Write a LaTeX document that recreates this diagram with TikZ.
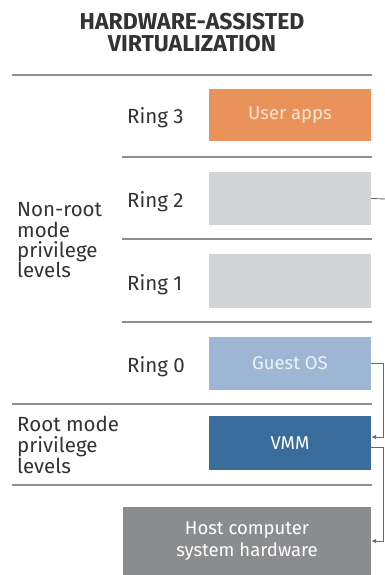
\documentclass[tikz,border=0pt]{standalone}
\usepackage{fontspec}
\setmainfont{Fira Sans}
\usetikzlibrary{arrows.meta}
\definecolor{inkdark}{HTML}{333333}
\definecolor{rulegray}{HTML}{8E8E8E}
\definecolor{wiregray}{HTML}{6A6A6A}
\definecolor{appsorange}{HTML}{E9925A}
\definecolor{appstext}{HTML}{FCE6D4}
\definecolor{emptygray}{HTML}{D1D3D4}
\definecolor{guestblue}{HTML}{9DB6D4}
\definecolor{guesttext}{HTML}{EEF3F9}
\definecolor{vmmblue}{HTML}{3B6D9C}
\definecolor{hostgray}{HTML}{8B8C8E}
\tikzset{
  ringbox/.style={minimum width=162pt, minimum height=53pt, inner sep=0pt,
    font=\fontsize{18.5}{22}\selectfont},
  ringlabel/.style={anchor=base west, inner sep=0pt, text=inkdark,
    font=\fontsize{20.5}{22}\selectfont},
  sidelabel/.style={anchor=base west, inner sep=0pt, text=inkdark,
    font=\fontsize{20.5}{22}\selectfont},
  titleline/.style={anchor=base, inner sep=0pt, text=inkdark,
    font=\fontsize{23}{24}\bfseries},
  levelrule/.style={draw=rulegray, line width=1.4pt},
  wire/.style={draw=wiregray, line width=0.9pt},
  wirearrow/.style={wire, -{Latex[length=5pt,width=4.5pt]}}
}
\begin{document}
\begin{tikzpicture}[x=1pt, y=-1pt]
\useasboundingbox[fill=white] (0,0) rectangle (385,575);

% title
\node[titleline] (titleA) at (192,30) {HARDWARE-ASSISTED};
\node[titleline] (titleB) at (192,52) {VIRTUALIZATION};

% separators between privilege rings
\draw[levelrule] (12,75) -- (372,75);
\draw[levelrule] (122,157) -- (372,157);
\draw[levelrule] (122,239) -- (372,239);
\draw[levelrule] (122,322) -- (372,322);
\draw[levelrule] (12,404) -- (372,404);
\draw[levelrule] (12,485) -- (372,485);

% ring boxes
\node[ringbox, fill=appsorange, text=appstext, minimum height=52pt] (apps) at (290,115) {User apps};
\node[ringbox, fill=emptygray] (ringtwo) at (290,198.5) {};
\node[ringbox, fill=emptygray, minimum height=54pt] (ringone) at (290,281) {};
\node[ringbox, fill=guestblue, text=guesttext] (guest) at (290,363.5) {Guest OS};
\node[ringbox, fill=vmmblue, text=white, minimum height=54pt] (vmm) at (290,443) {VMM};
\node[ringbox, fill=hostgray, text=white, minimum width=248pt, minimum height=68pt,
  align=center] (host) at (247,541)
  {Host computer\\system hardware};

% ring labels
\node[ringlabel] (rthree) at (127,124) {Ring 3};
\node[ringlabel] (rtwo) at (127,207) {Ring 2};
\node[ringlabel] (rone) at (127,290) {Ring 1};
\node[ringlabel] (rzero) at (127,372) {Ring 0};

% mode labels
\node[sidelabel] (nonrootA) at (17,216) {Non-root};
\node[sidelabel] (nonrootB) at (17,237) {mode};
\node[sidelabel] (nonrootC) at (17,257) {privilege};
\node[sidelabel] (nonrootD) at (17,277) {levels};
\node[sidelabel] (rootA) at (17,431) {Root mode};
\node[sidelabel] (rootB) at (17,452) {privilege};
\node[sidelabel] (rootC) at (17,473) {levels};

% connectors on the right
\coordinate (offedge) at (386,199);
\draw[wire] (ringtwo.east) -- (offedge);
\draw[wirearrow] (guest.east) -- (383,363.5) |- ([yshift=6pt]vmm.east);
\draw[wirearrow] ([yshift=-4pt]vmm.east) -- (383,447) |- (host.east);
\end{tikzpicture}
\end{document}
